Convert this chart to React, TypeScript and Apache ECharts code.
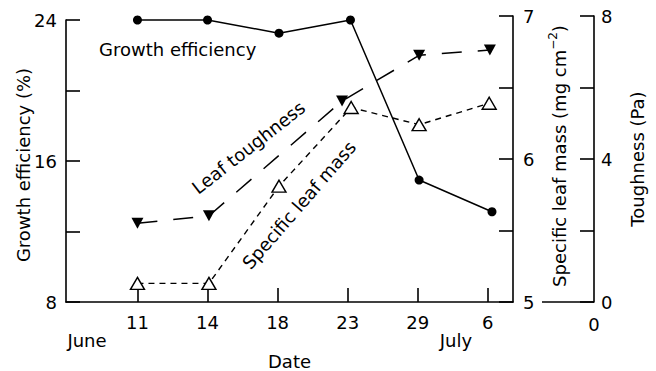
import React, { useEffect, useRef } from "react";
import * as echarts from "echarts";

const dateTicks = [0, 1, 2, 3, 4, 5];
const dateLabels = ["11", "14", "18", "23", "29", "6"];

const growthX = [0, 1, 2.02, 3.04, 4.02, 5.06];
const growthEfficiency = [24.0, 24.0, 23.25, 24.0, 14.92, 13.12];

const slmX = [0, 1.02, 2.02, 3.05, 4.02, 5.02];
const specificLeafMass = [5.13, 5.13, 5.81, 6.36, 6.24, 6.39];

const toughX = [0, 1.02, 2.92, 4.02, 5.03];
const toughness = [2.2, 2.41, 5.62, 6.9, 7.05];

const FONT = "DejaVu Sans";
const BLACK = "#000";

export default function App() {
  const ref = useRef<HTMLDivElement>(null);
  useEffect(() => {
    if (!ref.current) return;
    const chart = echarts.init(ref.current, null, { renderer: "svg" });
    const axisLine = { show: true, onZero: false, lineStyle: { color: BLACK, width: 1.6 } };
    const tick = { show: true, inside: true, length: 14, lineStyle: { color: BLACK, width: 1.6 } };
    const label = { color: BLACK, fontFamily: FONT, fontSize: 18 };
    chart.setOption({
      animation: false,
      backgroundColor: "#fff",
      grid: [
        { left: 66, top: 20, width: 447, height: 282, containLabel: false, outerBoundsMode: "none" },
        { left: 66, top: 16, width: 447, height: 286, containLabel: false, outerBoundsMode: "none" },
      ],
      xAxis: [
        {
          type: "value",
          gridIndex: 0,
          min: -1.02,
          max: 5.36,
          axisLine,
          axisTick: { ...tick, customValues: dateTicks },
          axisLabel: {
            ...label,
            margin: 11,
            customValues: dateTicks,
            formatter: (v: number) => dateLabels[Math.round(v)] ?? "",
          },
          splitLine: { show: false },
          name: "Date",
          nameLocation: "middle",
          nameGap: 50,
          nameTextStyle: { ...label },
        },
        { type: "value", gridIndex: 1, min: -1.02, max: 5.36, show: false },
      ],
      yAxis: [
        {
          type: "value",
          gridIndex: 0,
          position: "left",
          min: 8,
          max: 24,
          interval: 4,
          axisLine,
          axisTick: tick,
          axisLabel: { ...label, margin: 9, formatter: (v: number) => (v % 8 === 0 ? String(v) : "") },
          splitLine: { show: false },
        },
        {
          type: "value",
          gridIndex: 1,
          position: "right",
          min: 5,
          max: 7,
          interval: 0.5,
          axisLine,
          axisTick: tick,
          axisLabel: { ...label, margin: 10, formatter: (v: number) => (v % 1 === 0 ? String(v) : "") },
          splitLine: { show: false },
        },
        {
          type: "value",
          gridIndex: 1,
          position: "right",
          offset: 81,
          min: 0,
          max: 8,
          interval: 2,
          axisLine,
          axisTick: tick,
          axisLabel: { ...label, margin: 7, formatter: (v: number) => (v % 4 === 0 ? String(v) : "") },
          splitLine: { show: false },
        },
      ],
      series: [
        {
          type: "line",
          name: "Growth efficiency",
          xAxisIndex: 0,
          yAxisIndex: 0,
          data: growthX.map((x, i) => [x, growthEfficiency[i]]),
          symbol: "circle",
          symbolSize: 9,
          clip: false,
          itemStyle: { color: BLACK },
          lineStyle: { color: BLACK, width: 1.5 },
          z: 3,
        },
        {
          type: "line",
          name: "Specific leaf mass",
          xAxisIndex: 1,
          yAxisIndex: 1,
          data: slmX.map((x, i) => [x, specificLeafMass[i]]),
          symbol: "triangle",
          symbolSize: [14, 12],
          clip: false,
          itemStyle: { color: "#fff", borderColor: BLACK, borderWidth: 1.4 },
          lineStyle: { color: BLACK, width: 1.4, type: [6, 5] },
          z: 4,
        },
        {
          type: "line",
          name: "Leaf toughness",
          xAxisIndex: 1,
          yAxisIndex: 2,
          data: toughX.map((x, i) => [x, toughness[i]]),
          symbol: "triangle",
          symbolRotate: 180,
          symbolSize: [12, 11],
          clip: false,
          itemStyle: { color: BLACK },
          lineStyle: { color: BLACK, width: 1.5, type: [20, 16] },
          z: 3,
        },
      ],
      graphic: [
        { type: "line", shape: { x1: 542, y1: 302, x2: 594, y2: 302 }, style: { stroke: BLACK, lineWidth: 1.6 } },
        { type: "text", x: 594, y: 324, style: { text: "0", ...label, fill: BLACK, align: "center", verticalAlign: "middle" } },
        { type: "text", x: 87, y: 340, style: { text: "June", ...label, fill: BLACK, align: "center", verticalAlign: "middle" } },
        { type: "text", x: 456, y: 340, style: { text: "July", ...label, fill: BLACK, align: "center", verticalAlign: "middle" } },
        { type: "text", x: 99, y: 49, style: { text: "Growth efficiency", ...label, fill: BLACK, align: "left", verticalAlign: "middle" } },
        {
          type: "text", x: 248.5, y: 147.5, rotation: (38 * Math.PI) / 180,
          style: { text: "Leaf toughness", ...label, fill: BLACK, align: "center", verticalAlign: "middle" },
        },
        {
          type: "text", x: 299, y: 205, rotation: (49 * Math.PI) / 180,
          style: { text: "Specific leaf mass", ...label, fill: BLACK, align: "center", verticalAlign: "middle" },
        },
        {
          type: "text", x: 23, y: 165, rotation: Math.PI / 2,
          style: { text: "Growth efficiency (%)", ...label, fill: BLACK, align: "center", verticalAlign: "middle" },
        },
        {
          type: "text", x: 559, y: 156, rotation: Math.PI / 2,
          style: {
            text: "{a|Specific leaf mass (mg cm}{b|−2}{a|)}",
            fill: BLACK, align: "center", verticalAlign: "middle",
            rich: {
              a: { fontFamily: FONT, fontSize: 18, fill: BLACK, lineHeight: 24 },
              b: { fontFamily: FONT, fontSize: 12, fill: BLACK, verticalAlign: "top", lineHeight: 14 },
            },
          },
        },
        {
          type: "text", x: 637, y: 159, rotation: Math.PI / 2,
          style: { text: "Toughness (Pa)", ...label, fill: BLACK, align: "center", verticalAlign: "middle" },
        },
      ],
    });
    return () => chart.dispose();
  }, []);
  return <div ref={ref} style={{ position: "absolute", left: 0, top: 0, width: 656, height: 371 }} />;
}
